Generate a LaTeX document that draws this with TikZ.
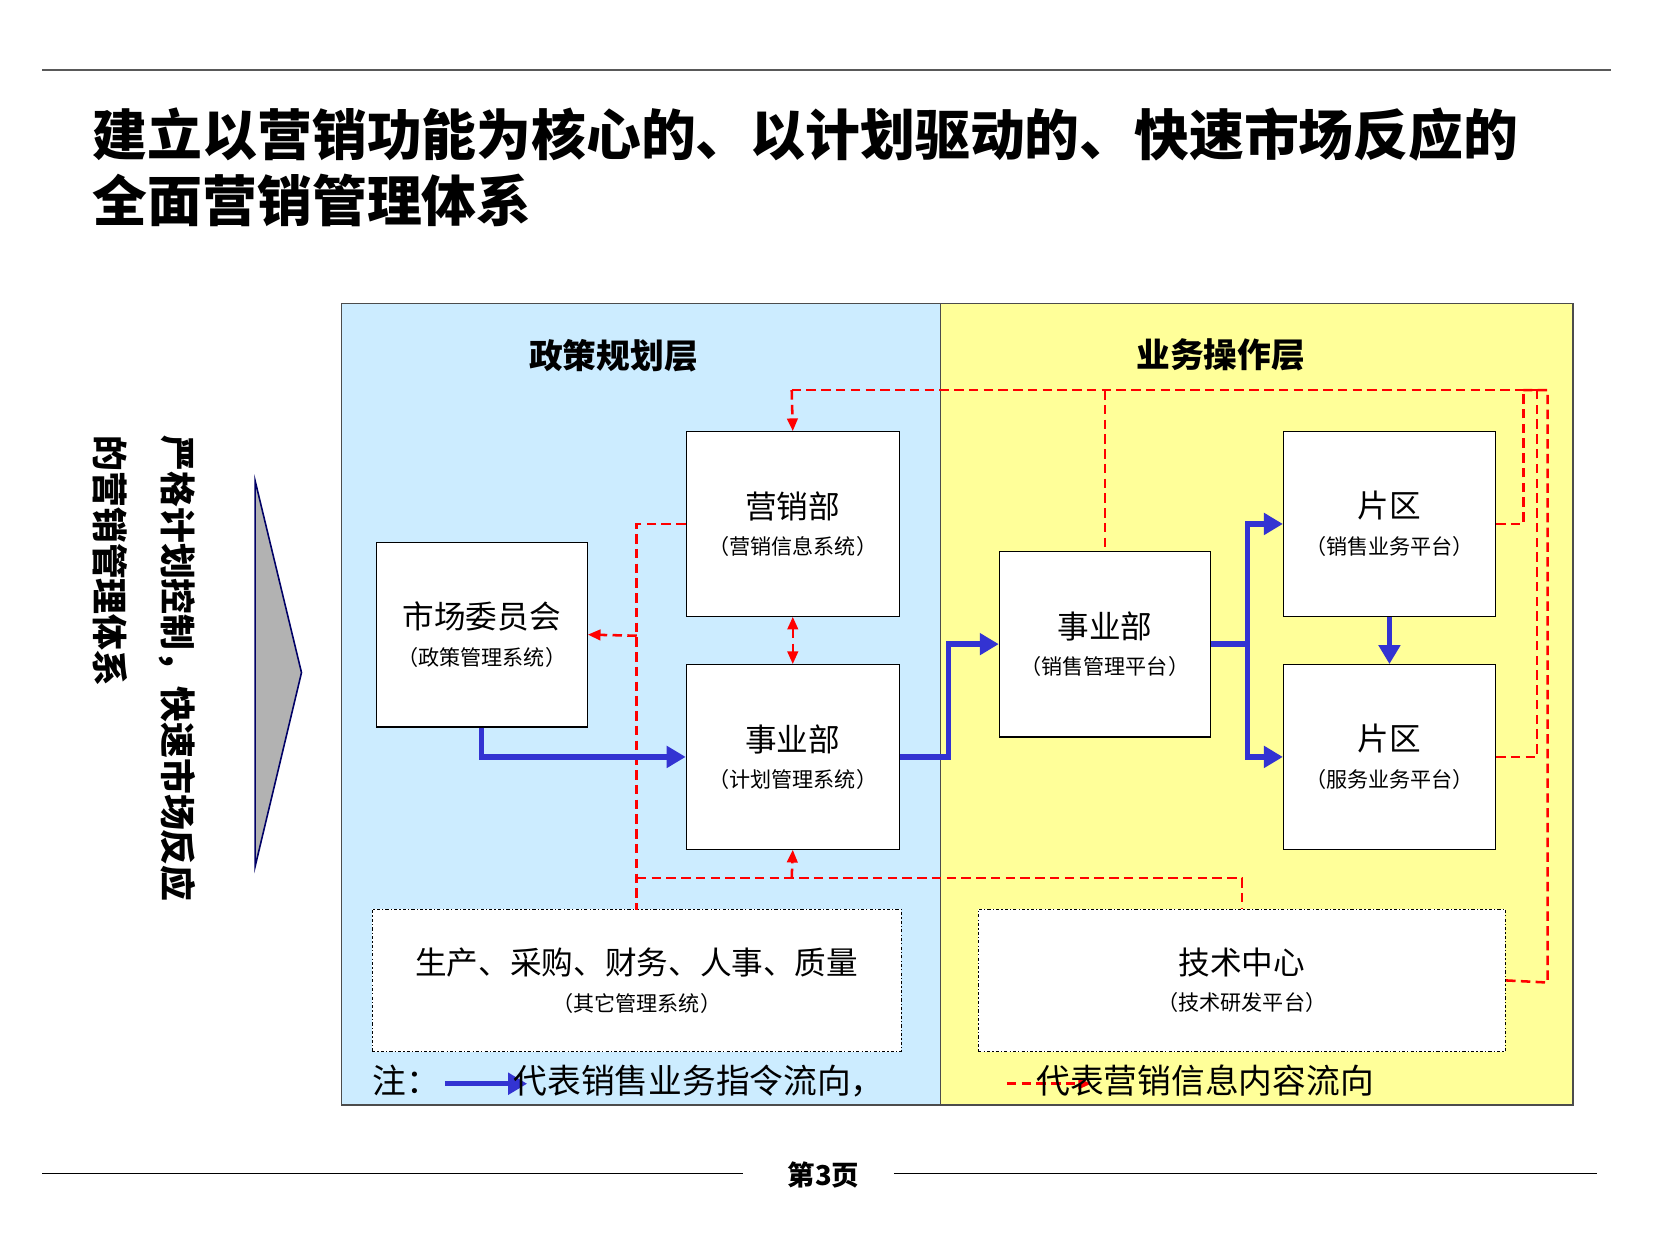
\documentclass[tikz,border=0pt]{standalone}
\usepackage{fontspec}
\newfontfamily\cjk{Noto Sans CJK SC}
\usetikzlibrary{arrows.meta}
\definecolor{pblue}{RGB}{204,236,255}
\definecolor{pyel}{RGB}{255,255,153}
\definecolor{ablue}{RGB}{51,51,210}
\newcommand{\bx}[2]{{\cjk\fontsize{30}{36}\selectfont #1}\\[14pt]{\cjk\fontsize{20}{24}\selectfont （#2）}}
\begin{document}
\begin{tikzpicture}[x=1pt,y=-1pt,
  box/.style={draw=black,line width=1.2pt,fill=white,minimum width=202pt,minimum height=175pt,align=center,inner sep=0},
  dbox/.style={draw=black,line width=1.2pt,dash dot,fill=white,minimum width=502pt,minimum height=135pt,align=center,inner sep=0},
  bl/.style={ablue,line width=5pt},
  ba/.style={bl,-{Triangle[length=18pt,width=20pt]}},
  rd/.style={red,line width=2.4pt,dash pattern=on 9pt off 5pt},
  ra/.style={rd,-{Triangle[length=12pt,width=10pt]}},
  rda/.style={rd,{Triangle[length=12pt,width=10pt]}-{Triangle[length=12pt,width=10pt]}}]
\useasboundingbox (0,0) rectangle (1568,1175);
\fill[white] (0,0) rectangle (1568,1175);
\draw[gray!70!black,line width=2pt] (40,66) -- (1528,66);
\node[anchor=west,font=\cjk\bfseries\fontsize{52}{60}\selectfont,inner sep=0] (t1) at (88,128) {建立以营销功能为核心的、以计划驱动的、快速市场反应的};
\node[anchor=west,font=\cjk\bfseries\fontsize{52}{60}\selectfont,inner sep=0] (t2) at (88,190) {全面营销管理体系};
% panels
\fill[pblue] (324,288) rectangle (892,1048);
\fill[pyel] (892,288) rectangle (1492,1048);
\draw[black!70,line width=1.5pt] (324,288) rectangle (1492,1048);
\draw[black!70,line width=1.5pt] (892,288) -- (892,1048);
\node[font=\cjk\bfseries\fontsize{32}{38}\selectfont] (h1) at (582,337) {政策规划层};
\node[font=\cjk\bfseries\fontsize{32}{38}\selectfont] (h2) at (1158,337) {业务操作层};
% left arrow and vertical text
\draw[fill=gray!60,draw=blue!40!black,line width=1.5pt] (242,456) -- (286,638) -- (242,822) -- cycle;
\node[rotate=-90,anchor=west,font=\cjk\bfseries\fontsize{34}{40}\selectfont,inner sep=0] (v1) at (168,413) {严格计划控制，快速市场反应};
\node[rotate=-90,anchor=west,font=\cjk\bfseries\fontsize{34}{40}\selectfont,inner sep=0] (v2) at (105,413) {的营销管理体系};
% boxes
\node[box] (yx) at (752,497) {\bx{营销部}{营销信息系统}};
\node[box,minimum width=200pt] (sc) at (457,602) {\bx{市场委员会}{政策管理系统}};
\node[box] (sy) at (752,718) {\bx{事业部}{计划管理系统}};
\node[box,minimum width=200pt,minimum height=176pt] (sr) at (1048,611) {\bx{事业部}{销售管理平台}};
\node[box,minimum width=201pt] (p1) at (1318,497) {\bx{片区}{销售业务平台}};
\node[box,minimum width=201pt] (p2) at (1318,718) {\bx{片区}{服务业务平台}};
\node[dbox] (sc2) at (604,930) {\bx{生产、采购、财务、人事、质量}{其它管理系统}};
\node[dbox,minimum width=500pt] (js) at (1178,930) {\bx{技术中心}{技术研发平台}};
% red dashed
\draw[rd] (1048,370) -- (sr.north);
\draw[rd] (751,370) -- (1462,370);
\draw[ra] (751,370) -- (yx.north);
\draw[rd] (p1.east) -- (1445,497) -- (1445,370);
\draw[rd] (p2.east) -- (1458,718) -- (1458,370);
\draw[rd] (js.east) -- (1468,932) -- (1468,370) -- (1445,370);
\draw[rd] (yx.west) -- (604,497) -- (604,863);
\draw[ra] (604,603) -- (sc.east);
\draw[rda] (yx.south) -- (sy.north);
\draw[rd] (604,833) -- (1178,833) -- (js.north);
\draw[ra] (751,833) -- (sy.south);
% blue
\draw[ba] (sc.south) -- (457,718) -- (sy.west);
\draw[ba] (sy.east) -- (900,718) -- (900,611) -- (sr.west);
\draw[bl] (sr.east) -- (1183,611);
\draw[ba] (1183,611) -- (1183,497) -- (p1.west);
\draw[ba] (1183,611) -- (1183,718) -- (p2.west);
\draw[ba] (p1.south) -- (p2.north);
% note
\node[anchor=west,font=\cjk\fontsize{32}{38}\selectfont,inner sep=0] (n1) at (353,1025) {注：};
\coordinate (b1) at (422,1028); \coordinate (b2) at (500,1028);
\draw[ba] (b1) -- (b2);
\node[anchor=west,font=\cjk\fontsize{32}{38}\selectfont,inner sep=0] (n2) at (487,1025) {代表销售业务指令流向，};
\coordinate (c1) at (955,1028); \coordinate (c2) at (1035,1028);
\draw[ra] (c1) -- (c2);
\node[anchor=west,font=\cjk\fontsize{32}{38}\selectfont,inner sep=0] (n3) at (983,1025) {代表营销信息内容流向};
% footer
\draw[black,line width=1.5pt] (40,1113) -- (705,1113);
\draw[black,line width=1.5pt] (848,1113) -- (1515,1113);
\node[font=\cjk\bfseries\fontsize{26}{30}\selectfont] (pg) at (781,1115) {第3页};
\end{tikzpicture}
\end{document}
